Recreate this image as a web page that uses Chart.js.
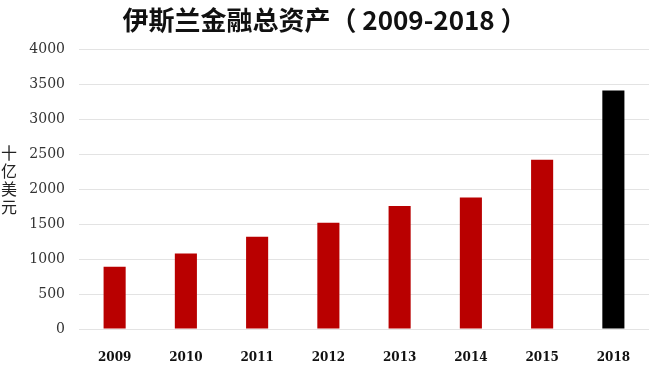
<!DOCTYPE html>
<html>
<head>
<meta charset="utf-8">
<script src="https://cdn.jsdelivr.net/npm/chart.js@4/dist/chart.umd.min.js"></script>
<style>
  html, body { margin: 0; padding: 0; background: #fff; }
  #wrap { width: 652px; height: 377px; position: relative; }
</style>
</head>
<body>
<div id="wrap"><canvas id="chart"></canvas></div>
<script>
// Values (billion USD)
const years = ['2009', '2010', '2011', '2012', '2013', '2014', '2015', '2018'];
const assets = [890, 1080, 1320, 1520, 1760, 1880, 2420, 3410];
const barColors = ['#b90000', '#b90000', '#b90000', '#b90000', '#b90000', '#b90000', '#b90000', '#000000'];
const yTicks = [0, 500, 1000, 1500, 2000, 2500, 3000, 3500, 4000];
const unitChars = ['十', '亿', '美', '元'];

// Stacked vertical unit label on the left
const unitLabel = {
  id: 'unitLabel',
  afterDraw(chart) {
    const ctx = chart.ctx;
    ctx.save();
    ctx.font = '16px "Noto Sans CJK SC"';
    ctx.fillStyle = '#222';
    ctx.textAlign = 'center';
    ctx.textBaseline = 'middle';
    unitChars.forEach((ch, i) => {
      ctx.fillText(ch, 9, 153 + i * 18);
    });
    ctx.restore();
  }
};

const ctx = document.getElementById('chart').getContext('2d');
new Chart(ctx, {
  type: 'bar',
  data: {
    labels: years,
    datasets: [
      {
        label: '总资产',
        data: assets,
        backgroundColor: barColors,
        borderWidth: 0,
        categoryPercentage: 1,
        barPercentage: 0.31
      }
    ]
  },
  options: {
    responsive: true,
    maintainAspectRatio: false,
    animation: false,
    layout: { padding: { left: 0, right: 3, top: 0, bottom: 0 } },
    plugins: {
      legend: { display: false },
      tooltip: { enabled: false },
      title: {
        display: true,
        text: '伊斯兰金融总资产（ 2009-2018 ）',
        color: '#111',
        font: { family: '"Noto Sans CJK SC"', size: 26, weight: 'bold', lineHeight: 1.2 },
        padding: { top: 5, bottom: 13 }
      }
    },
    scales: {
      x: {
        grid: { display: false },
        border: { display: false },
        ticks: {
          color: '#111',
          padding: 14,
          font: { family: '"DejaVu Serif"', size: 12, weight: 'bold' }
        },
        afterFit(scale) { scale.height = 48; }
      },
      y: {
        min: 0,
        max: 4000,
        afterBuildTicks(scale) { scale.ticks = yTicks.map(v => ({ value: v })); },
        grid: { color: '#e3e3e3', lineWidth: 1, drawTicks: false },
        border: { display: false },
        ticks: {
          color: '#333',
          padding: 14,
          font: { family: '"DejaVu Serif"', size: 14 },
          callback: (value) => String(value)
        },
        afterFit(scale) { scale.width = 79; }
      }
    }
  },
  plugins: [unitLabel]
});
</script>
</body>
</html>
